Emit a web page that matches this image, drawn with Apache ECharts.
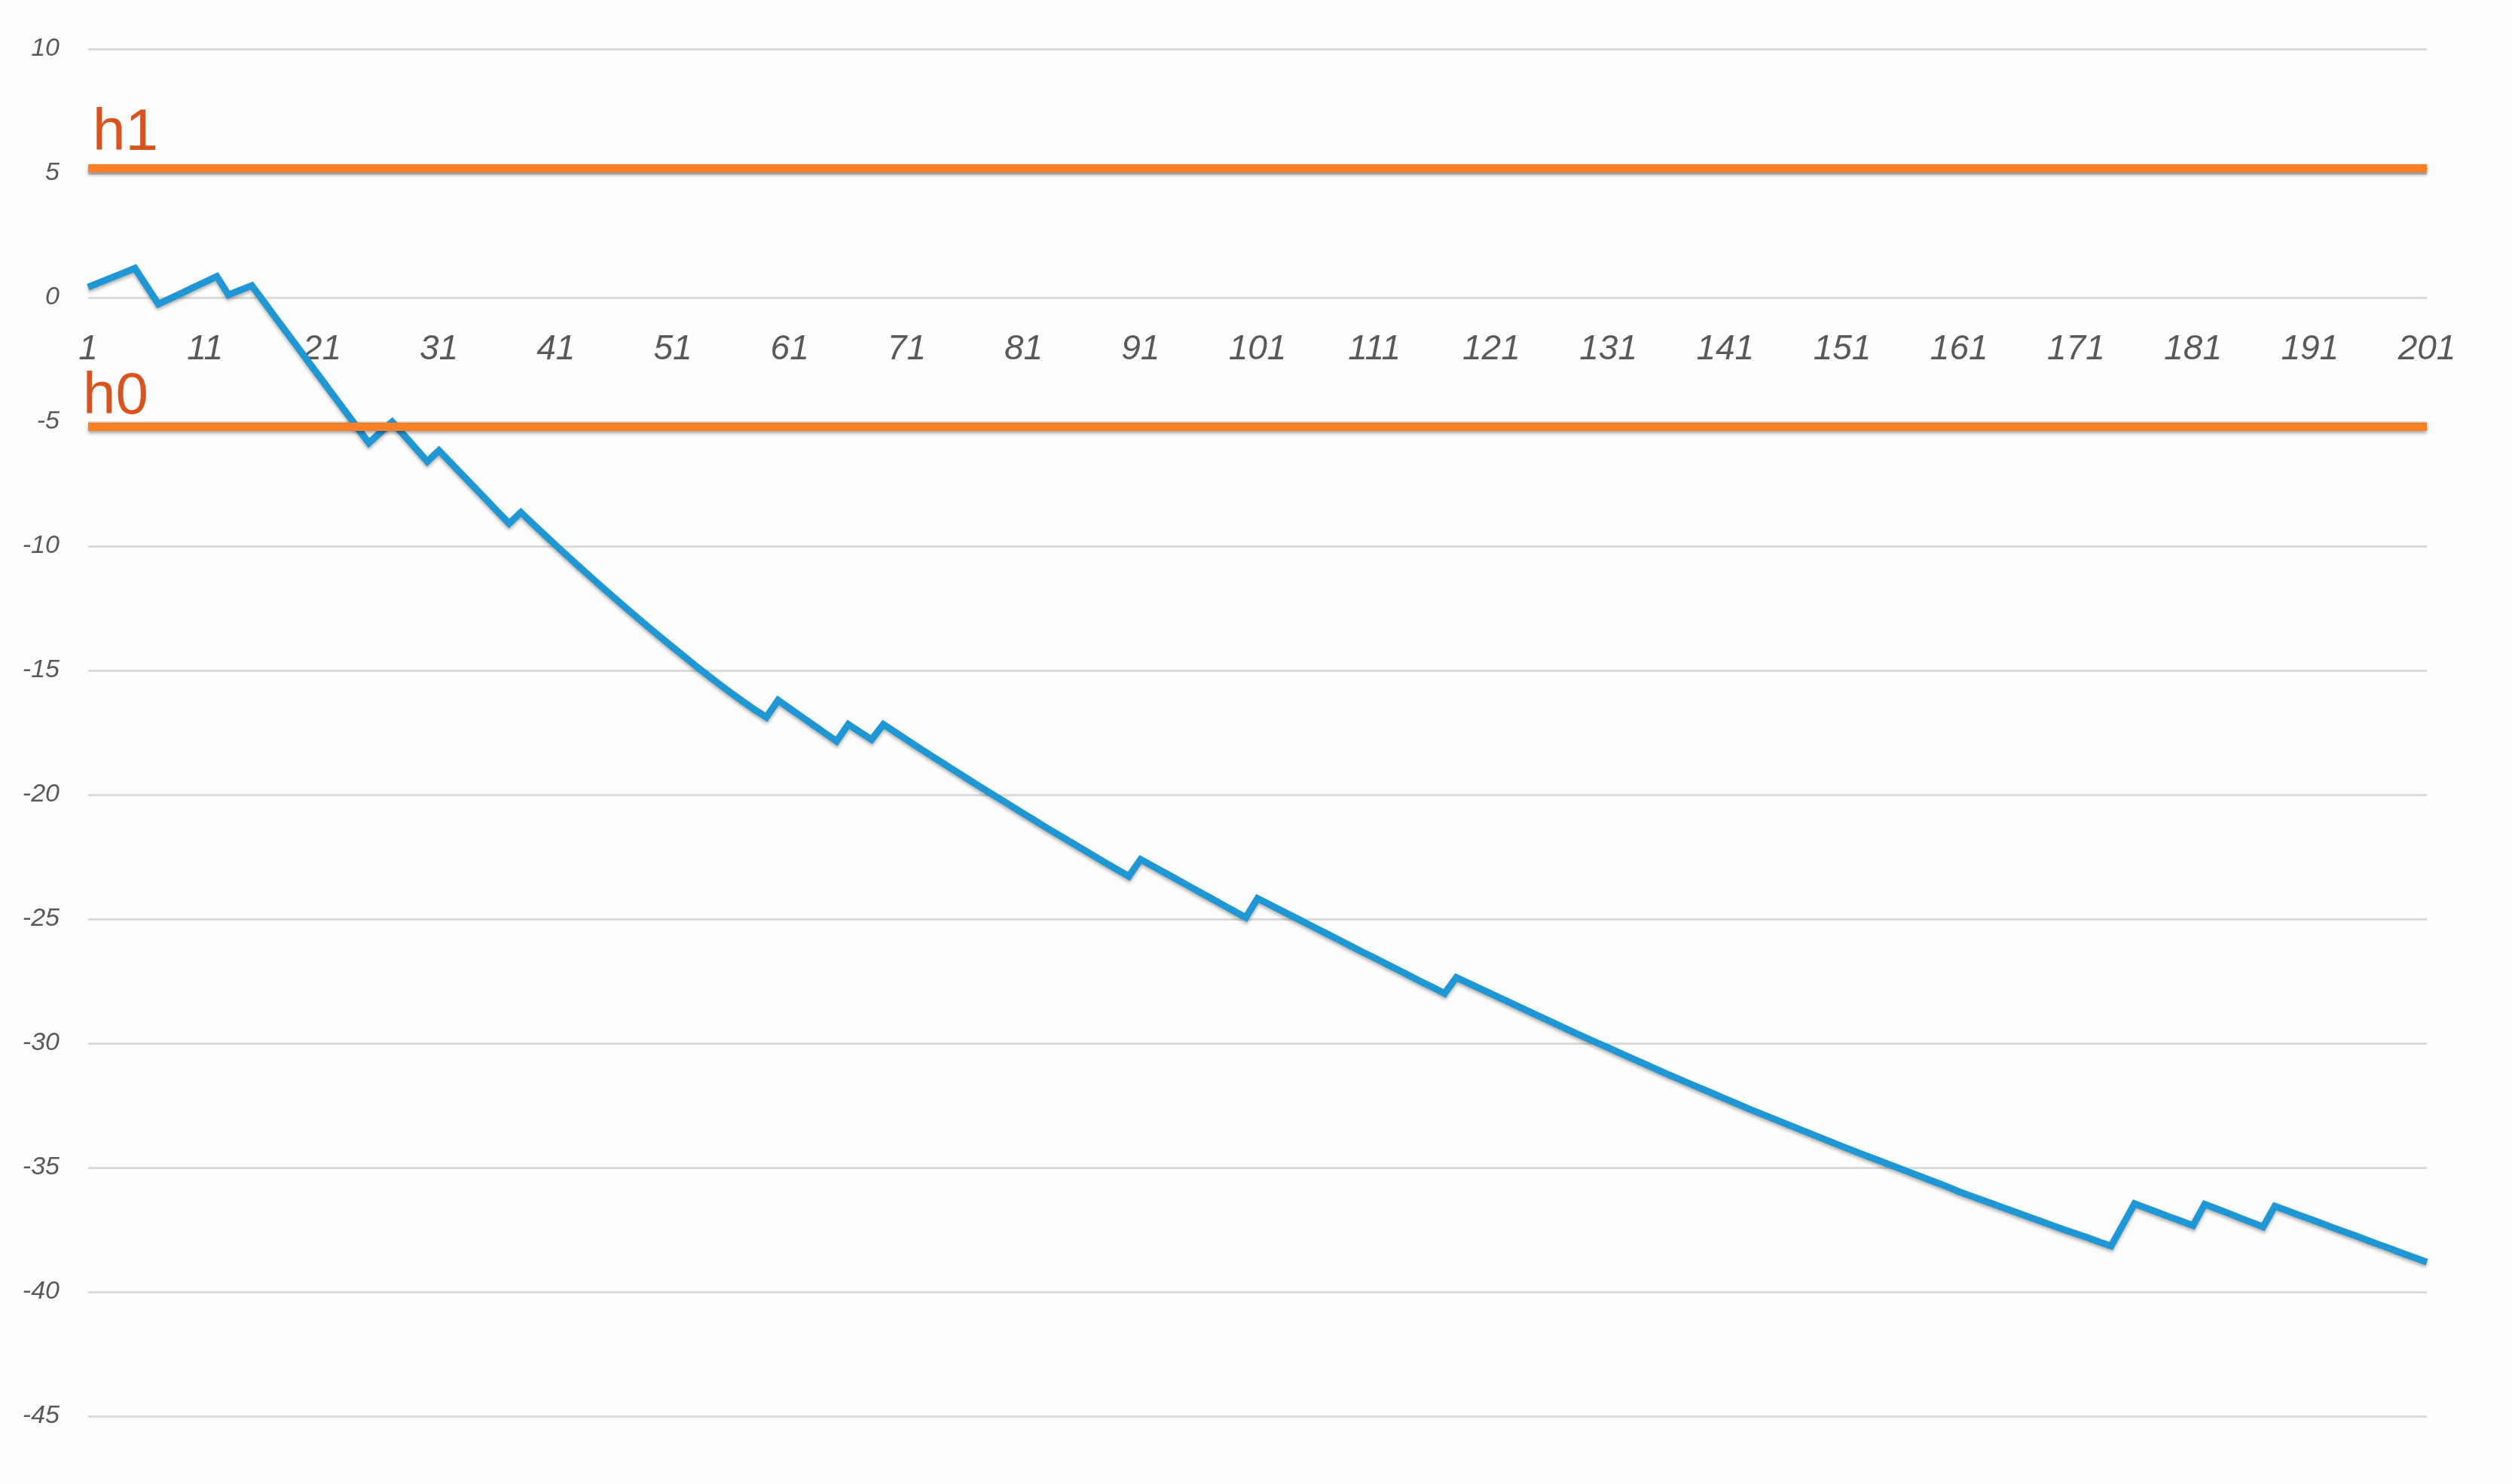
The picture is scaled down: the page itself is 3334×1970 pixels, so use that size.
<!DOCTYPE html>
<html>
<head>
<meta charset="utf-8">
<script src="https://cdn.jsdelivr.net/npm/echarts@6/dist/echarts.min.js"></script>
<style>
  html, body { margin: 0; padding: 0; background: #fdfdfd; }
  #chart { width: 3334px; height: 1970px; }
</style>
</head>
<body>
<div id="chart"></div>
<script>
// ---- data ----
var categories = [];
for (var k = 1; k <= 201; k++) categories.push(String(k));

var llr = [
  // 1-10
  0.42, 0.61, 0.80, 0.99, 1.18, 0.46, -0.26, -0.04, 0.18, 0.41,
  // 11-20
  0.63, 0.85, 0.11, 0.30, 0.48, -0.15, -0.79, -1.42, -2.05, -2.69,
  // 21-30
  -3.32, -3.95, -4.58, -5.22, -5.85, -5.42, -5.00, -5.53, -6.06, -6.59,
  // 31-40
  -6.15, -6.64, -7.13, -7.62, -8.11, -8.60, -9.09, -8.64, -9.09, -9.53,
  // 41-50
  -9.97, -10.40, -10.83, -11.25, -11.67, -12.08, -12.49, -12.89, -13.29, -13.68,
  // 51-60
  -14.07, -14.45, -14.83, -15.20, -15.56, -15.91, -16.25, -16.58, -16.88, -16.20,
  // 61-70
  -16.53, -16.86, -17.19, -17.52, -17.85, -17.17, -17.48, -17.78, -17.17, -17.48,
  // 71-80
  -17.79, -18.10, -18.40, -18.70, -19.00, -19.30, -19.60, -19.89, -20.18, -20.47,
  // 81-90
  -20.76, -21.05, -21.34, -21.62, -21.90, -22.18, -22.46, -22.74, -23.01, -23.28,
  // 91-100
  -22.60, -22.86, -23.12, -23.38, -23.64, -23.90, -24.16, -24.42, -24.68, -24.94,
  // 101-110
  -24.17, -24.41, -24.65, -24.89, -25.13, -25.37, -25.61, -25.85, -26.09, -26.33,
  // 111-120
  -26.56, -26.80, -27.04, -27.28, -27.52, -27.75, -27.99, -27.35, -27.57, -27.79,
  // 121-130
  -28.01, -28.23, -28.45, -28.67, -28.89, -29.11, -29.33, -29.55, -29.76, -29.97,
  // 131-140
  -30.18, -30.39, -30.60, -30.81, -31.02, -31.23, -31.43, -31.63, -31.83, -32.03,
  // 141-150
  -32.23, -32.43, -32.63, -32.82, -33.01, -33.20, -33.39, -33.58, -33.77, -33.96,
  // 151-160
  -34.15, -34.33, -34.51, -34.69, -34.87, -35.05, -35.23, -35.41, -35.59, -35.77,
  // 161-170
  -35.97, -36.14, -36.31, -36.48, -36.65, -36.82, -36.99, -37.16, -37.33, -37.50,
  // 171-180
  -37.66, -37.82, -37.99, -38.15, -37.30, -36.45, -36.63, -36.80, -36.98, -37.15,
  // 181-190
  -37.33, -36.47, -36.65, -36.83, -37.02, -37.20, -37.38, -36.55, -36.72, -36.90,
  // 191-200
  -37.07, -37.24, -37.42, -37.59, -37.76, -37.94, -38.11, -38.28, -38.46, -38.63,
  // 201
  -38.80
];

var thresholdValues = [5.2, -5.2];
var thresholdLabels = ['h1', 'h0'];

var yMin = -45, yMax = 10, yStep = 5;

// ---- chart ----
var chart = echarts.init(document.getElementById('chart'), null, { renderer: 'canvas' });
var gridBottom = 90;
var chartHeight = 1970;

var option = {
  animation: false,
  backgroundColor: '#fdfdfd',
  grid: { left: 117, right: 113, top: 65, bottom: gridBottom, containLabel: false },
  xAxis: {
    type: 'category',
    data: categories,
    boundaryGap: false,
    offset: 0,
    axisLine: { show: false, onZero: false },
    axisTick: { show: false },
    splitLine: { show: false },
    axisLabel: {
      interval: 9,
      margin: 47,
      fontFamily: 'Liberation Sans',
      fontStyle: 'italic',
      fontSize: 46,
      color: '#595959'
    }
  },
  yAxis: {
    type: 'value',
    min: yMin,
    max: yMax,
    interval: yStep,
    axisLine: { show: false },
    axisTick: { show: false },
    splitLine: { show: true, lineStyle: { color: '#dadada', width: 3 } },
    axisLabel: {
      margin: 38,
      fontFamily: 'Liberation Sans',
      fontStyle: 'italic',
      fontSize: 34,
      color: '#595959'
    }
  },
  series: [
    {
      name: 'LLR',
      type: 'line',
      data: llr,
      showSymbol: false,
      symbol: 'none',
      z: 2,
      lineStyle: {
        color: '#1f97d5',
        width: 9,
        join: 'miter',
        shadowColor: 'rgba(0,0,0,0.30)',
        shadowBlur: 4,
        shadowOffsetY: 3
      },
      markLine: {
        silent: true,
        symbol: ['none', 'none'],
        z: 5,
        lineStyle: {
          color: '#ff7f27',
          width: 11,
          type: 'solid',
          shadowColor: 'rgba(0,0,0,0.35)',
          shadowBlur: 4,
          shadowOffsetY: 3
        },
        label: {
          show: true,
          position: 'insideStartTop',
          fontFamily: 'Liberation Sans',
          fontSize: 78,
          color: '#d9531e'
        },
        data: [
          { yAxis: thresholdValues[0], label: { formatter: thresholdLabels[0], distance: [6, 7] } },
          { yAxis: thresholdValues[1], label: { formatter: thresholdLabels[1], distance: [-7, 0] } }
        ]
      }
    }
  ]
};

chart.setOption(option);

// place the category axis labels along the zero line, using the value axis scale
var yZero = chart.convertToPixel({ yAxisIndex: 0 }, 0);
var gridBottomPx = chartHeight - gridBottom;
chart.setOption({ xAxis: { offset: yZero - gridBottomPx } });
</script>
</body>
</html>
